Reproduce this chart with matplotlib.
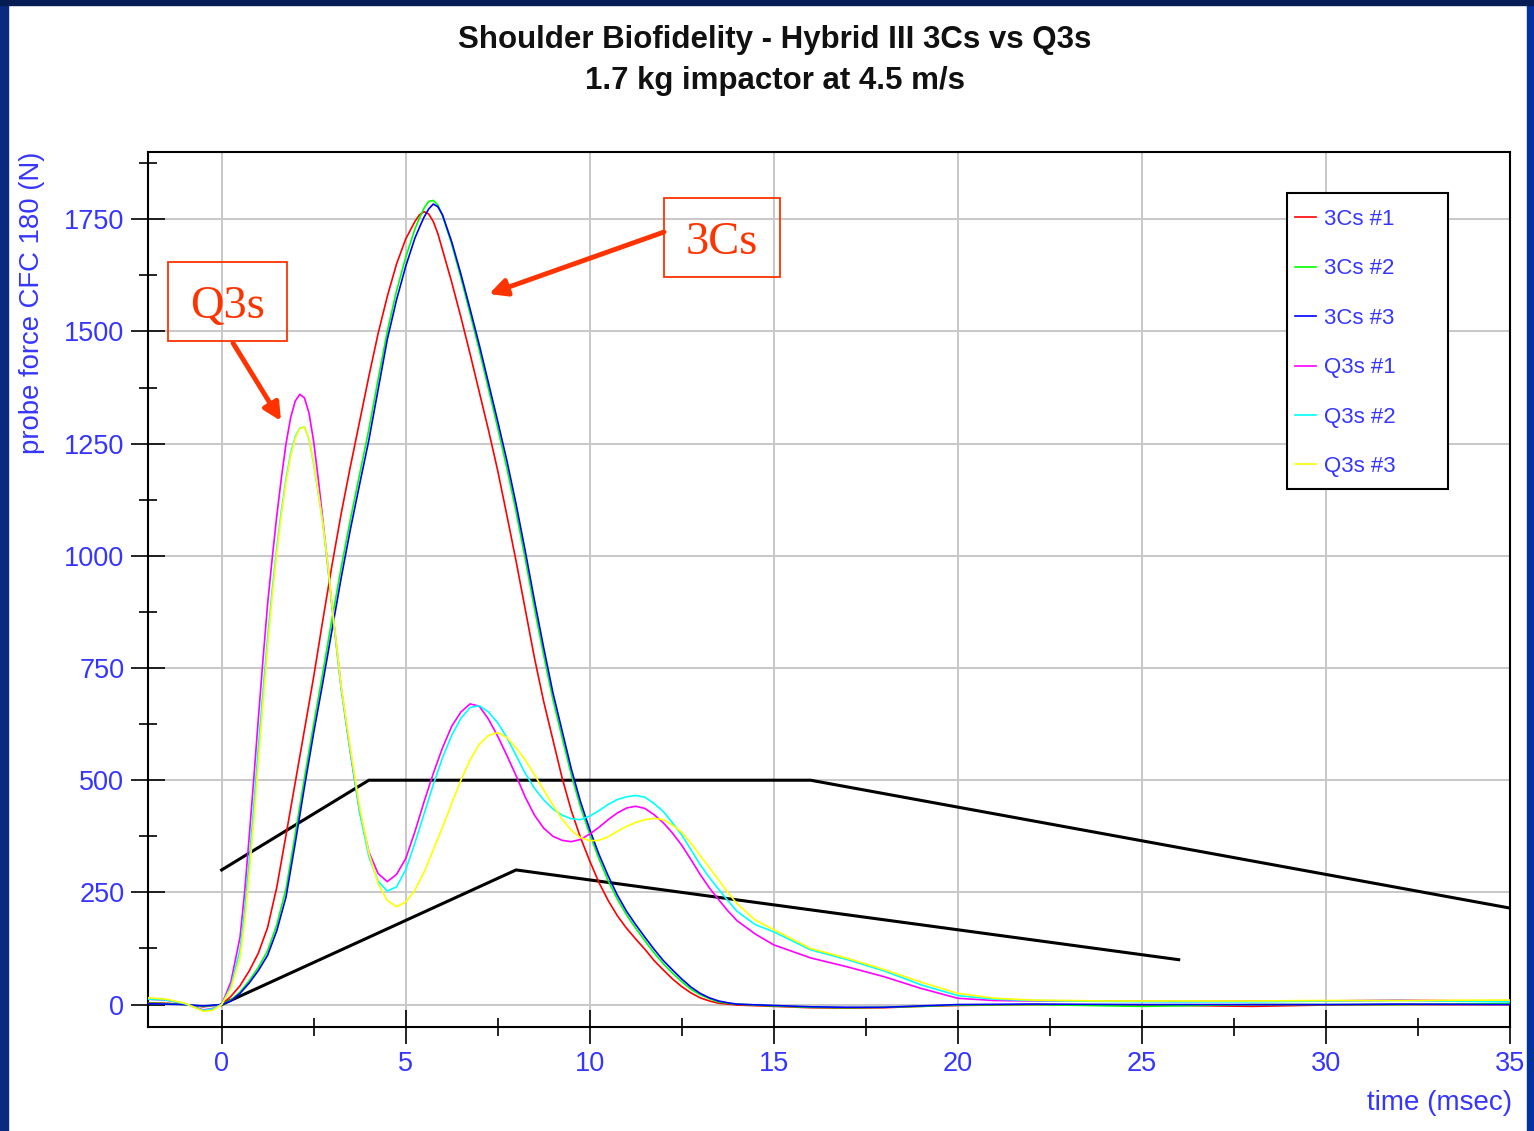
import matplotlib
matplotlib.use("Agg")
import matplotlib.pyplot as plt
from matplotlib.patches import Rectangle, FancyArrowPatch
from matplotlib.ticker import MultipleLocator

W, H = 1534, 1131

# corridor lines (time msec, force N)
upper_t = [0, 4, 16, 35]
upper_f = [300, 500, 500, 215]
lower_t = [0, 8, 26]
lower_f = [0, 300, 100]

# Hybrid III 3Cs tests
t_3cs = [-2, -1.5, -1, -0.5, 0,
         0.25, 0.5, 0.75, 1, 1.25, 1.5, 1.75, 2, 2.25, 2.5, 2.75, 3, 3.25, 3.5, 3.75, 4, 4.25, 4.5, 4.75, 5, 5.25,
         5.375, 5.5, 5.625, 5.75, 5.875,
         6, 6.25, 6.5, 6.75, 7, 7.25, 7.5, 7.75, 8, 8.25, 8.5, 8.75, 9, 9.25, 9.5, 9.75, 10, 10.25, 10.5, 10.75,
         11, 11.25, 11.5, 11.75, 12, 12.25, 12.5, 12.75, 13, 13.25, 13.5, 13.75, 14,
         15, 16, 17, 18, 19, 20, 22, 25, 28, 30, 32, 35]
cs1 = [4, 3, 0, -5, 0,
       18, 42, 75, 115, 172, 262, 378, 495, 612, 730, 857, 980, 1095, 1200, 1300, 1400, 1495, 1578, 1650, 1706, 1745,
       1760, 1767, 1762, 1745, 1718,
       1682, 1610, 1532, 1450, 1365, 1280, 1190, 1090, 988, 880, 772, 675, 590, 505, 432, 372, 320, 272, 232, 198,
       170, 146, 123, 98, 77, 57, 40, 26, 15, 8, 3, 1, -1,
       -4, -7, -8, -7, -4, -2, 0, -1, -4, -1, 0, 0]
cs2 = [3, 2, 0, -4, 0,
       10, 28, 53, 83, 120, 178, 258, 380, 505, 625, 740, 860, 975, 1082, 1182, 1282, 1393, 1500, 1590, 1665, 1728,
       1753, 1775, 1790, 1792, 1782,
       1758, 1695, 1620, 1540, 1458, 1372, 1285, 1195, 1098, 992, 882, 778, 680, 595, 512, 440, 380, 325, 276, 235,
       200, 170, 142, 115, 91, 70, 51, 34, 22, 13, 6, 3, 1,
       -3, -6, -7, -6, -4, -1, 0, -4, 0, 0, 0, 2]
cs3 = [2, 1, 0, -3, 0,
       8, 25, 48, 76, 110, 165, 240, 360, 485, 605, 718, 835, 952, 1060, 1160, 1258, 1370, 1482, 1570, 1645, 1708,
       1732, 1755, 1773, 1784, 1778,
       1760, 1700, 1628, 1550, 1470, 1385, 1300, 1212, 1115, 1010, 900, 795, 695, 610, 525, 452, 390, 335, 287, 244,
       208, 178, 150, 123, 98, 77, 57, 39, 25, 15, 8, 4, 1,
       -2, -5, -6, -6, -3, 0, 1, 0, 0, 0, 1, 0]

# Q3s tests
t_q3s = [-2, -1.5, -1, -0.5, -0.25, 0,
         0.25, 0.5, 0.625, 0.75, 0.875, 1, 1.125, 1.25, 1.375,
         1.5, 1.625, 1.75, 1.875, 2, 2.125, 2.25, 2.375, 2.5, 2.625, 2.75, 2.875,
         3, 3.25, 3.5, 3.75, 4, 4.25, 4.5, 4.75, 5, 5.25, 5.5, 5.75, 6, 6.25, 6.5, 6.75, 7, 7.25, 7.5, 7.75,
         8, 8.25, 8.5, 8.75, 9, 9.25, 9.5, 9.75, 10, 10.25, 10.5, 10.75, 11, 11.25, 11.5, 11.75,
         12, 12.25, 12.5, 12.75, 13, 13.25, 13.5, 13.75, 14, 14.5,
         15, 16, 17, 18, 19, 20, 21, 22, 24, 26, 28, 30, 32, 35]
q1 = [12, 10, 2, -12, -9, 0,
      50, 150, 250, 375, 505, 640, 770, 893, 995,
      1090, 1175, 1250, 1308, 1345, 1360, 1352, 1318, 1255, 1172, 1080, 985,
      887, 705, 560, 430, 340, 292, 274, 290, 325, 385, 452, 515, 572, 620, 652, 670, 665, 636, 598, 555,
      510, 462, 422, 393, 375, 366, 363, 368, 380, 395, 412, 427, 438, 442, 437, 423,
      405, 382, 355, 323, 290, 260, 234, 209, 187, 157,
      133, 104, 84, 62, 36, 14, 9, 8, 8, 7, 8, 8, 10, 7]
q2 = [12, 10, 2, -13, -10, 0,
      40, 122, 210, 320, 445, 575, 700, 818, 925,
      1020, 1102, 1172, 1228, 1265, 1285, 1287, 1260, 1205, 1140, 1072, 985,
      885, 702, 562, 428, 330, 275, 253, 262, 300, 360, 425, 490, 550, 600, 638, 662, 666, 652, 628, 595,
      555, 515, 482, 456, 436, 422, 414, 412, 420, 432, 446, 457, 463, 466, 462, 448,
      430, 405, 378, 345, 312, 283, 257, 232, 208, 178,
      162, 122, 100, 75, 44, 20, 12, 9, 7, 6, 6, 8, 9, 6]
q3 = [15, 12, 3, -15, -13, 0,
      35, 105, 185, 290, 412, 542, 672, 798, 910,
      1008, 1092, 1165, 1222, 1262, 1284, 1287, 1262, 1208, 1142, 1072, 988,
      890, 708, 570, 440, 338, 270, 232, 218, 228, 255, 295, 345, 395, 448, 500, 545, 580, 600, 606, 595,
      572, 545, 512, 478, 445, 413, 388, 372, 365, 366, 374, 386, 397, 406, 412, 415,
      412, 400, 384, 360, 332, 305, 278, 250, 225, 188,
      167, 125, 103, 78, 50, 25, 14, 10, 8, 8, 8, 9, 9, 10]

labels = ["3Cs #1", "3Cs #2", "3Cs #3", "Q3s #1", "Q3s #2", "Q3s #3"]
colors = ["#ff0000", "#00ff00", "#0000ff", "#ff00ff", "#00ffff", "#ffff00"]

BLUE_TXT = "#3535ff"
ANNO = "#ff3300"

plt.rcParams['font.family'] = ['Liberation Sans', 'DejaVu Sans']


def px(x, y):
    # pixel position in the picture -> figure fraction
    return x / W, 1 - y / H


fig = plt.figure(figsize=(W / 100, H / 100), dpi=100)
ax = fig.add_axes([148 / W, 1 - 1027 / H, (1510 - 148) / W, (1027 - 152) / H])

ax.plot(upper_t, upper_f, color="black", lw=2.2, zorder=2)
ax.plot(lower_t, lower_f, color="black", lw=2.2, zorder=2)

series = [(t_3cs, cs1), (t_3cs, cs2), (t_3cs, cs3), (t_q3s, q1), (t_q3s, q2), (t_q3s, q3)]
for (t, f), lab, c in zip(series, labels, colors):
    ax.plot(t, f, color=c, lw=1.2, label=lab, zorder=3)

ax.set_xlim(-2, 35)
ax.set_ylim(-50, 1900)
ax.xaxis.set_major_locator(MultipleLocator(5))
ax.xaxis.set_minor_locator(MultipleLocator(2.5))
ax.yaxis.set_major_locator(MultipleLocator(250))
ax.yaxis.set_minor_locator(MultipleLocator(125))
ax.tick_params(which='major', direction='inout', length=24, width=1.2, color='black',
               labelcolor=BLUE_TXT, labelsize=19.5, pad=5)
ax.tick_params(which='minor', direction='inout', length=13, width=1.2, color='black')
ax.grid(True, which='major', color='#c8c8c8', lw=1.4)
ax.set_axisbelow(True)
for sp in ax.spines.values():
    sp.set_linewidth(1.5)

# legend: white box drawn by hand, entries placed inside it
x0, y0 = px(1287, 489)
ax.add_patch(Rectangle((x0, y0), (1448 - 1287) / W, (489 - 193) / H, transform=fig.transFigure,
                       facecolor='white', edgecolor='black', lw=1.5, zorder=4.5))
ax.legend(loc='upper left', bbox_to_anchor=px(1295, 209), bbox_transform=fig.transFigure,
          frameon=False, borderpad=0, borderaxespad=0, fontsize=16, labelcolor=BLUE_TXT,
          handlelength=0.95, handletextpad=0.36, labelspacing=1.28)

# titles and axis labels
fig.text(*px(775, 40), "Shoulder Biofidelity - Hybrid III 3Cs vs Q3s", ha='center', va='center',
         fontsize=22.5, fontweight='bold', color='#111111')
fig.text(*px(775, 81), "1.7 kg impactor at 4.5 m/s", ha='center', va='center',
         fontsize=22.5, fontweight='bold', color='#111111')
fig.text(*px(32, 303), "probe force CFC 180 (N)", rotation=90, ha='center', va='center',
         fontsize=19.8, color=BLUE_TXT)
fig.text(*px(1512, 1103), "time (msec)", ha='right', va='center', fontsize=20, color=BLUE_TXT)

# call-out boxes and arrows
for (bx0, by0, bx1, by1), txt, (tx, ty) in [((168, 262, 287, 341), "Q3s", (227.5, 318)),
                                             ((664, 198, 780, 277), "3Cs", (721.5, 254))]:
    fig.add_artist(Rectangle(px(bx0, by1), (bx1 - bx0) / W, (by1 - by0) / H, transform=fig.transFigure,
                             fill=False, ec=ANNO, lw=1.3))
    fig.text(*px(tx, ty), txt, ha='center', va='baseline', fontsize=33.5,
             family='Liberation Serif', color=ANNO)

for tail, tip in [((233, 343), (281, 421)), ((664, 232), (489, 294))]:
    fig.add_artist(FancyArrowPatch(px(*tail), px(*tip), transform=fig.transFigure,
                                   arrowstyle='-|>', mutation_scale=26, lw=3.5, color=ANNO,
                                   shrinkA=0, shrinkB=0))

# slide border
fig.add_artist(Rectangle((0, 0), 8 / W, 1, transform=fig.transFigure, color='#0a2a80', zorder=10))
fig.add_artist(Rectangle((1 - 7 / W, 0), 7 / W, 1, transform=fig.transFigure, color='#0033a0', zorder=10))
fig.add_artist(Rectangle((0, 1 - 5 / H), 1, 5 / H, transform=fig.transFigure, color='#061c55', zorder=10))

fig.savefig("out.png", dpi=100)
